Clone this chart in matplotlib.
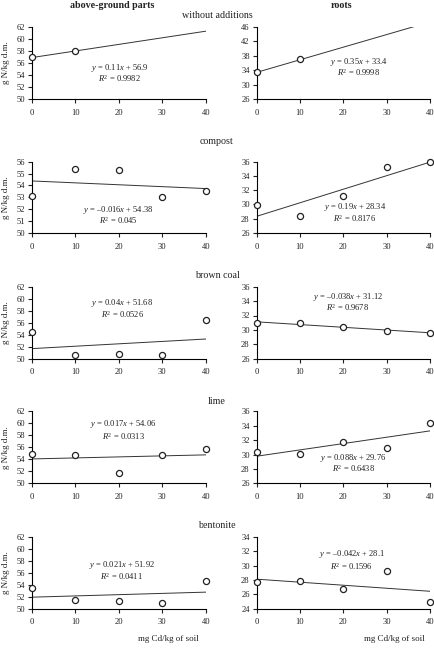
import numpy as np
import matplotlib
matplotlib.use("Agg")
import matplotlib.pyplot as plt

# ============================================================
# CONFIG
# ============================================================
plt.rcParams['font.family'] = ['Liberation Serif', 'DejaVu Serif']
plt.rcParams['mathtext.fontset'] = 'custom'
plt.rcParams['mathtext.rm'] = 'Liberation Serif'
plt.rcParams['mathtext.it'] = 'Liberation Serif:italic'
plt.rcParams['axes.linewidth'] = 0.8
TXT = '#222222'

# ============================================================
# DATA
# ============================================================
cd_doses = [0, 10, 20, 30, 40]
treatments = ["without additions", "compost", "brown coal", "lime", "bentonite"]

# above-ground parts, g N/kg d.m.
shoot_n = [
    [57.0, 58.0],
    [53.1, 55.4, 55.3, 53.0, 53.5],
    [54.5, 50.6, 50.7, 50.6, 56.4],
    [54.9, 54.8, 51.8, 54.7, 55.8],
    [53.4, 51.4, 51.3, 50.9, 54.7],
]
shoot_slope = [0.11, -0.016, 0.04, 0.017, 0.021]
shoot_icpt = [56.9, 54.38, 51.68, 54.06, 51.92]
shoot_r2 = ["0.9982", "0.045", "0.0526", "0.0313", "0.0411"]

# roots, g N/kg d.m.
root_n = [
    [33.5, 37.0],
    [29.9, 28.4, 31.2, 35.2, 36.0],
    [31.0, 30.9, 30.4, 29.9, 29.6],
    [30.4, 30.1, 31.8, 30.9, 34.4],
    [27.7, 27.9, 26.7, 29.3, 24.9],
]
root_slope = [0.35, 0.19, -0.038, 0.088, -0.042]
root_icpt = [33.4, 28.34, 31.12, 29.76, 28.1]
root_r2 = ["0.9998", "0.8176", "0.9678", "0.6438", "0.1596"]

# axis ranges (ymin, ymax, step)
shoot_ylim = [(50, 62, 2), (50, 56, 1), (50, 62, 2), (50, 62, 2), (50, 62, 2)]
root_ylim = [(26, 46, 4), (26, 36, 2), (26, 36, 2), (26, 36, 2), (24, 34, 2)]

# ============================================================
# LAYOUT (pixels)
# ============================================================
W, H = 435, 657
rows_px = [(27, 99), (161.7, 233), (286.7, 358.7), (411.3, 483.3), (536.7, 608.7)]
title_y = [16, 142, 275.7, 401, 525]
left_x, left_w = 31.7, 174
right_x, right_w = 256.7, 173.3
FS = 6.1

# equation positions in axes fraction: (x, y_eq, y_r2)
shoot_eq_pos = [(0.507, 0.435, 0.278), (0.498, 0.318, 0.172), (0.52, 0.769, 0.607),
                (0.527, 0.819, 0.647), (0.517, 0.608, 0.446)]
root_eq_pos = [(0.59, 0.518, 0.365), (0.567, 0.369, 0.20), (0.525, 0.861, 0.708),
               (0.557, 0.353, 0.20), (0.548, 0.759, 0.588)]


def fmt_num(v):
    return ('\u2013' if v < 0 else '') + ('%g' % abs(v))


def draw_panel(ax, yvals, slope, icpt, r2, ylim, eqpos):
    x = cd_doses[:len(yvals)]
    xs = np.array([0, 40])
    ax.plot(xs, slope * xs + icpt, color='#333333', lw=0.7, zorder=2)
    ax.plot(x, yvals, 'o', ms=4.4, mfc='white', mec='#222222', mew=0.9,
            clip_on=False, zorder=3)
    ax.set_xlim(0, 40)
    ax.set_ylim(ylim[0], ylim[1])
    ax.set_xticks(cd_doses)
    ax.set_yticks(np.arange(ylim[0], ylim[1] + 0.01, ylim[2]))
    ax.spines['top'].set_visible(False)
    ax.spines['right'].set_visible(False)
    ax.tick_params(direction='out', length=3, width=0.8, labelsize=FS,
                   pad=2, colors=TXT)
    ax.tick_params(axis='x', pad=4)
    eq = r'$y$ = ' + fmt_num(slope) + r'$x$ + ' + fmt_num(icpt)
    ax.text(eqpos[0], eqpos[1], eq, transform=ax.transAxes, ha='center',
            va='center', fontsize=FS, color=TXT)
    ax.text(eqpos[0], eqpos[2], r'$R^{2}$ = ' + r2, transform=ax.transAxes,
            ha='center', va='center', fontsize=FS, color=TXT)


fig = plt.figure(figsize=(W / 100, H / 100), dpi=100)

for i, (top, bot) in enumerate(rows_px):
    b = 1 - bot / H
    h = (bot - top) / H
    axl = fig.add_axes([left_x / W, b, left_w / W, h])
    axr = fig.add_axes([right_x / W, b, right_w / W, h])
    draw_panel(axl, shoot_n[i], shoot_slope[i], shoot_icpt[i], shoot_r2[i],
               shoot_ylim[i], shoot_eq_pos[i])
    draw_panel(axr, root_n[i], root_slope[i], root_icpt[i], root_r2[i],
               root_ylim[i], root_eq_pos[i])
    fig.text(217 / W, 1 - title_y[i] / H, treatments[i], ha='center',
             va='center', fontsize=7.2, color=TXT)
    fig.text(6.5 / W, 1 - (top + bot) / 2 / H, 'g N/kg d.m.', rotation=90,
             ha='center', va='center', fontsize=6.5, color=TXT)

fig.text(112.5 / W, 1 - 5.5 / H, 'above-ground parts', ha='center',
         va='center', fontsize=7.2, fontweight='bold', color=TXT)
fig.text(341.7 / W, 1 - 5.5 / H, 'roots', ha='center', va='center',
         fontsize=7.2, fontweight='bold', color=TXT)
fig.text(168 / W, 1 - 639 / H, 'mg Cd/kg of soil', ha='center', va='center',
         fontsize=6.5, color=TXT)
fig.text(394.5 / W, 1 - 639 / H, 'mg Cd/kg of soil', ha='center', va='center',
         fontsize=6.5, color=TXT)

fig.savefig('out.png', dpi=100)
